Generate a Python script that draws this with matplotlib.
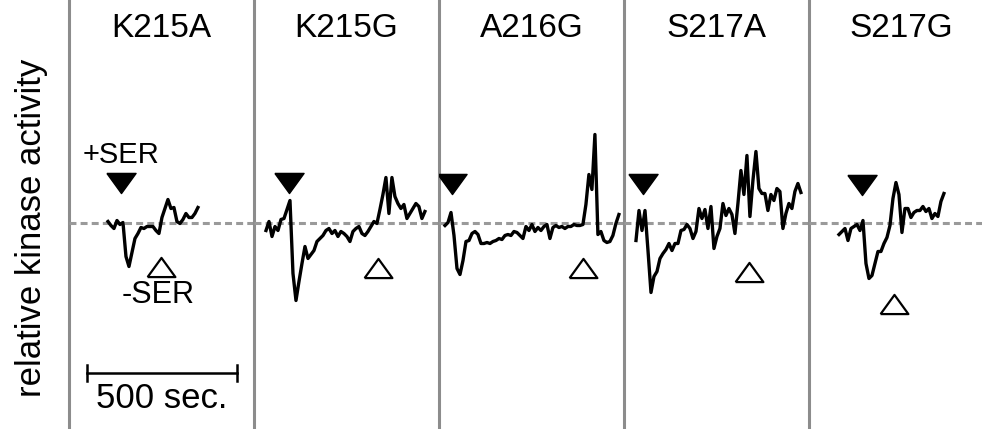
import numpy as np
import matplotlib.pyplot as plt

plt.rcParams["font.family"] = ["Liberation Sans", "DejaVu Sans"]
plt.rcParams["lines.scale_dashes"] = False

mutants = ["K215A", "K215G", "A216G", "S217A", "S217G"]

# traces: change in activity (a.u., 0 = baseline), one sample every 10 sec,
# starting at trace_start sec from the left edge of each panel
step = 10
trace_start = [130, 40, 20, 40, 100]

k215a = [1, -3, -6, 2, -2, 0, -34, -44, -30, -16, -11, -5, -6, -4, -4, -4,
         -8, -11, 5, 14, 23, 14, 15, 1, -1, 3, 9, 5, 5, 9, 15]
k215g = [-8, 1, -14, -4, -8, 3, 4, 13, 22, -51, -78, -59, -41, -24, -36, -32,
         -28, -19, -16, -13, -8, -6, -11, -8, -14, -9, -11, -14, -19, -9, -6,
         -4, -11, -13, -9, -4, 1, -1, 13, 28, 45, 9, 45, 26, 19, 14, 18, 4, 9,
         14, 19, 16, 4, 11]
a216g = [-3, 0, 10, -13, -46, -52, -38, -19, -18, -11, -9, -12, -21, -21, -20,
         -21, -19, -18, -16, -17, -13, -12, -13, -9, -10, -13, -16, -4, -8, -2,
         -9, -5, -8, -4, -2, -16, -5, -3, -5, -4, -6, -4, -4, -2, -3, -3, -2,
         18, 48, 33, 88, -12, -9, -18, -20, -19, -13, -1, 8]
s217a = [-18, 12, -8, 12, -28, -70, -54, -49, -36, -31, -27, -21, -28, -21, -21,
         -8, -7, -2, -6, -16, -9, 14, 4, 13, -6, 16, -26, -14, -6, 19, 7, 14, 8,
         -11, 19, 52, 28, 67, 6, 42, 71, 34, 29, 29, 12, 28, 22, 34, 31, -6, 9,
         19, 14, 31, 39, 30]
s217g = [-12, -9, -6, -18, -6, -4, -2, -8, 2, -41, -56, -53, -41, -29, -29, -21,
         -15, -3, 24, 40, 28, -10, 14, 14, 5, 10, 12, 12, 16, 11, 14, 4, 9, 6,
         21, 29]
traces = [k215a, k215g, a216g, s217a, s217g]

# +SER (filled) and -SER (open) arrow heads: (time, level)
ser_on = [(175, 39.5), (118, 39.5), (45, 39), (63, 39), (178, 38)]
ser_off = [(308, -44), (412, -45.5), (480, -45.5), (418, -49.5), (285, -81)]

scale_bar = 500  # sec

fig = plt.figure(figsize=(9.82, 4.29), dpi=100)
left0, panel_w = 69 / 982, 185 / 982
down = [(-1, 0.69), (1, 0.69), (0, -0.69), (-1, 0.69)]
up = [(-1, -0.69), (1, -0.69), (0, 0.69), (-1, -0.69)]

for i, name in enumerate(mutants):
    ax = fig.add_axes([left0 + i * panel_w, 0, panel_w, 1])
    ax.set_xlim(0, 617)
    ax.set_ylim(-206.5, 222.5)
    ax.axis("off")
    ax.axvline(0, color="#8c8c8c", lw=2.2, clip_on=False)
    ax.axhline(0, color="#9a9a9a", lw=2.2, dashes=(5, 3))
    t = trace_start[i] + step * np.arange(len(traces[i]))
    ax.plot(t, traces[i], color="black", lw=2.4, solid_joinstyle="round")
    ax.plot(*ser_on[i], marker=down, ms=21, color="black", ls="none")
    ax.plot(*ser_off[i], marker=up, ms=20, mfc="white", mec="black",
            mew=1.6, ls="none")
    ax.text(0.5, 0.934, name, transform=ax.transAxes, ha="center",
            va="center", fontsize=24)

    if i == 0:
        ax.text(173, 67.5, "+SER", ha="center", va="center", fontsize=21)
        ax.text(298, -72.5, "-SER", ha="center", va="center", fontsize=22)
        x0 = 60
        ax.plot([x0, x0 + scale_bar], [-150, -150], color="black", lw=1.8)
        ax.plot([x0, x0], [-158, -142], color="black", lw=1.8)
        ax.plot([x0 + scale_bar] * 2, [-158, -142], color="black", lw=1.8)
        ax.text(x0 + scale_bar / 2, -176, "500 sec.", ha="center",
                va="center", fontsize=25)

fig.text(32 / 982, 0.469, "relative kinase activity", rotation=90,
         ha="center", va="center", fontsize=25)

fig.savefig("out.png", dpi=100)
